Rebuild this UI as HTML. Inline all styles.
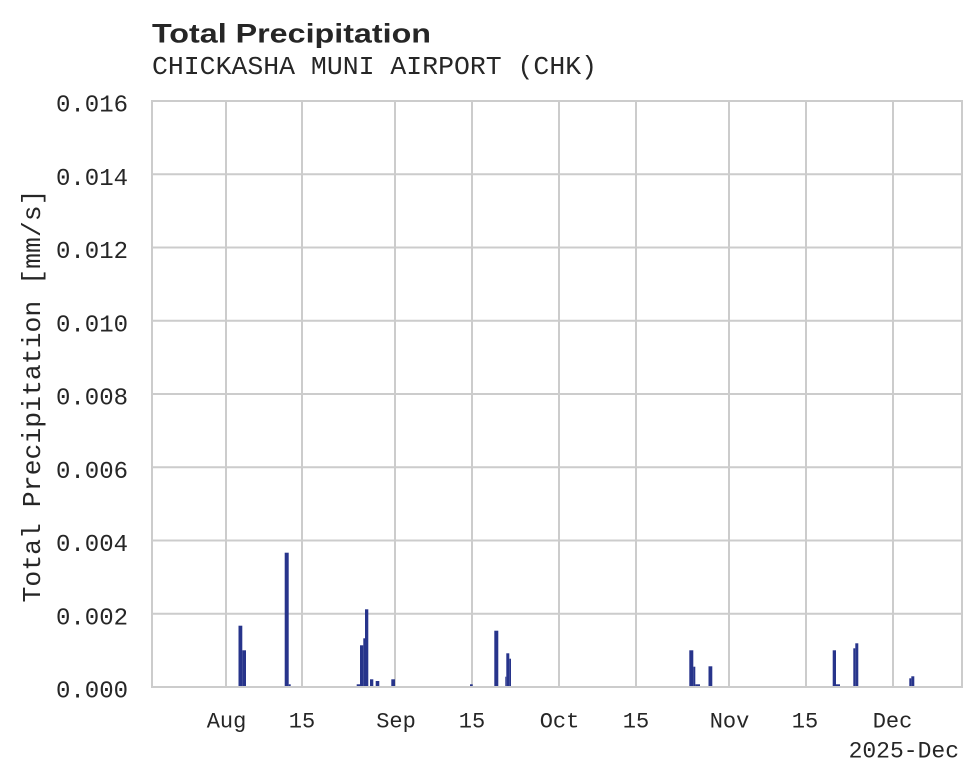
<!DOCTYPE html>
<html><head><meta charset="utf-8"><style>
html,body{margin:0;padding:0;background:#fff;}
svg{display:block;}
</style></head><body>
<svg width="980" height="783" viewBox="0 0 980 783" xmlns="http://www.w3.org/2000/svg">
<rect width="980" height="783" fill="#fff"/>
<g stroke="#cccccc" stroke-width="2" fill="none">
<line x1="226" y1="101" x2="226" y2="687"/>
<line x1="302" y1="101" x2="302" y2="687"/>
<line x1="395" y1="101" x2="395" y2="687"/>
<line x1="472" y1="101" x2="472" y2="687"/>
<line x1="559" y1="101" x2="559" y2="687"/>
<line x1="636" y1="101" x2="636" y2="687"/>
<line x1="729" y1="101" x2="729" y2="687"/>
<line x1="806" y1="101" x2="806" y2="687"/>
<line x1="893" y1="101" x2="893" y2="687"/>
<line x1="152" y1="174.25" x2="962" y2="174.25"/>
<line x1="152" y1="247.5" x2="962" y2="247.5"/>
<line x1="152" y1="320.75" x2="962" y2="320.75"/>
<line x1="152" y1="394" x2="962" y2="394"/>
<line x1="152" y1="467.25" x2="962" y2="467.25"/>
<line x1="152" y1="540.5" x2="962" y2="540.5"/>
<line x1="152" y1="613.75" x2="962" y2="613.75"/>
</g>
<g fill="#27348b">
<rect x="238.5" y="625.7" width="3.8" height="60.5"/>
<rect x="242.3" y="650.3" width="3.7" height="35.9"/>
<rect x="284.7" y="552.7" width="4" height="133.5"/>
<rect x="288.7" y="684.3" width="2" height="1.9"/>
<rect x="356.7" y="684.3" width="3.3" height="1.9"/>
<rect x="360" y="645.3" width="3.3" height="40.9"/>
<rect x="363.3" y="638.3" width="1.7" height="47.9"/>
<rect x="365" y="609.3" width="3.3" height="76.9"/>
<rect x="370" y="679.3" width="3.3" height="6.9"/>
<rect x="375.7" y="681" width="3.6" height="5.2"/>
<rect x="391.3" y="679.3" width="3.7" height="6.9"/>
<rect x="470" y="684.3" width="2.7" height="1.9"/>
<rect x="494.3" y="630.7" width="4" height="55.5"/>
<rect x="505.3" y="676.7" width="1" height="9.5"/>
<rect x="506.3" y="653.3" width="3" height="32.9"/>
<rect x="509.3" y="658.7" width="1.7" height="27.5"/>
<rect x="689.3" y="650.3" width="4" height="35.9"/>
<rect x="693.3" y="666.7" width="2" height="19.5"/>
<rect x="695.3" y="684.3" width="4.7" height="1.9"/>
<rect x="708.5" y="666.3" width="3.8" height="19.9"/>
<rect x="832.7" y="650.3" width="3.3" height="35.9"/>
<rect x="836" y="684.3" width="4" height="1.9"/>
<rect x="853.3" y="648.3" width="2" height="37.9"/>
<rect x="855.3" y="643.3" width="3" height="42.9"/>
<rect x="909.3" y="678.3" width="2" height="7.9"/>
<rect x="911.3" y="676.3" width="3" height="9.9"/>
</g>
<rect x="152" y="101" width="810" height="586" fill="none" stroke="#cccccc" stroke-width="2"/>
<text x="152" y="42.7" font-family="Liberation Sans, sans-serif" font-weight="bold" font-size="27" fill="#262626" textLength="279" lengthAdjust="spacingAndGlyphs">Total Precipitation</text>
<text x="152" y="74" font-family="Liberation Mono, monospace" font-size="26" fill="#262626" textLength="445" lengthAdjust="spacingAndGlyphs">CHICKASHA MUNI AIRPORT (CHK)</text>
<g font-family="Liberation Mono, monospace" font-size="24" fill="#262626" text-anchor="end">
<text x="128" y="111.5">0.016</text>
<text x="128" y="184.75">0.014</text>
<text x="128" y="258">0.012</text>
<text x="128" y="331.25">0.010</text>
<text x="128" y="404.5">0.008</text>
<text x="128" y="477.75">0.006</text>
<text x="128" y="551">0.004</text>
<text x="128" y="624.25">0.002</text>
<text x="128" y="697.5">0.000</text>
</g>
<g font-family="Liberation Mono, monospace" font-size="22" fill="#262626" text-anchor="middle">
<text x="226.5" y="727.5">Aug</text>
<text x="302" y="727.5">15</text>
<text x="396" y="727.5">Sep</text>
<text x="472" y="727.5">15</text>
<text x="559.5" y="727.5">Oct</text>
<text x="636" y="727.5">15</text>
<text x="729.5" y="727.5">Nov</text>
<text x="805" y="727.5">15</text>
<text x="892.5" y="727.5">Dec</text>
</g>
<text x="959" y="757.5" font-family="Liberation Mono, monospace" font-size="23" fill="#262626" text-anchor="end">2025-Dec</text>
<text transform="translate(40,396) rotate(-90)" font-family="Liberation Mono, monospace" font-size="26" fill="#262626" text-anchor="middle" textLength="413" lengthAdjust="spacingAndGlyphs">Total Precipitation [mm/s]</text>
</svg>
</body></html>
